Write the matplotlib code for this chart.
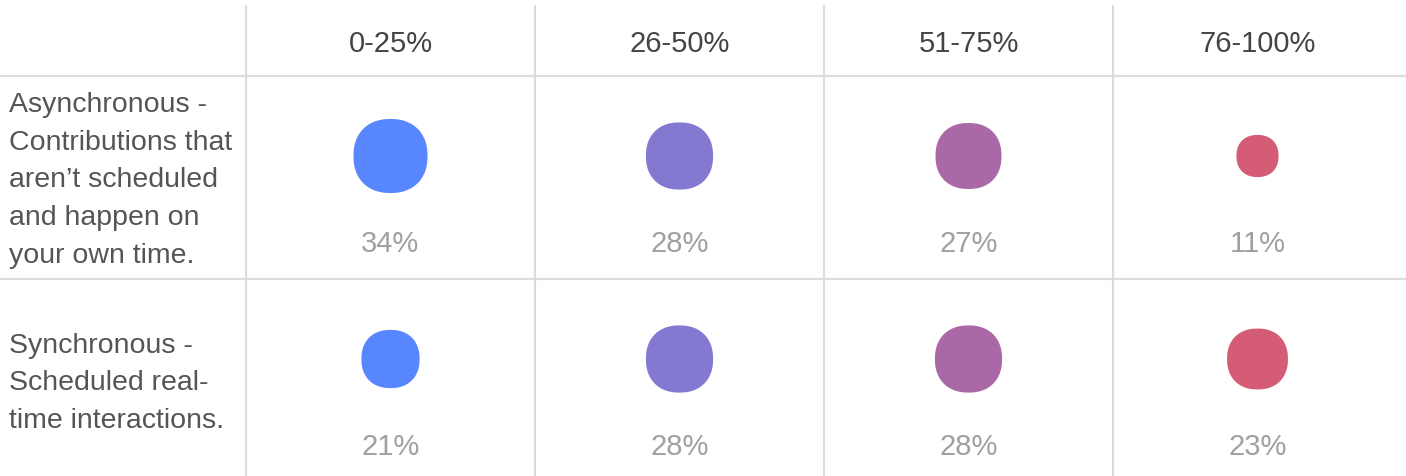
import numpy as np
import matplotlib.pyplot as plt
from matplotlib.patches import Polygon

plt.rcParams['font.family'] = ['Liberation Sans', 'DejaVu Sans']

# data
columns = ['0-25%', '26-50%', '51-75%', '76-100%']
rows = ['Asynchronous -\nContributions that\naren\u2019t scheduled\nand happen on\nyour own time.',
        'Synchronous -\nScheduled real-\ntime interactions.']
async_pct = [34, 28, 27, 11]
sync_pct = [21, 28, 28, 23]
col_colors = ['#5886FF', '#8379D0', '#AB68A6', '#D55C76']

W, H = 1406, 477
fig = plt.figure(figsize=(W / 100, H / 100), dpi=100)
ax = fig.add_axes([0, 0, 1, 1])
ax.set_xlim(0, W)
ax.set_ylim(H, 0)
ax.axis('off')

label_w = 246
col_w = 289
row_tops = [77, 280]
row_bots = [280, H]
label_shift = [2, 5]
grid_c = '#DCDCDC'

# grid lines
for i in range(len(columns)):
    ax.plot([label_w + i * col_w] * 2, [7, H], color=grid_c, lw=1.6)
for y in row_tops:
    ax.plot([0, W], [y, y], color=grid_c, lw=1.6)


def squircle(cx, cy, d, n=2.25, k=160):
    t = np.linspace(0, 2 * np.pi, k, endpoint=False)
    c, s = np.cos(t), np.sin(t)
    x = np.sign(c) * np.abs(c) ** (2 / n) * d / 2
    y = np.sign(s) * np.abs(s) ** (2 / n) * d / 2
    return np.column_stack([cx + x, cy + y])


max_d = 74
vmax = max(async_pct + sync_pct)
for j, name in enumerate(columns):
    cx = label_w + (j + 0.5) * col_w
    ax.text(cx, 44, name, ha='center', va='center', fontsize=21, color='#444444')

for r, (label, vals) in enumerate(zip(rows, [async_pct, sync_pct])):
    top = row_tops[r]
    ax.text(9, (top + row_bots[r]) / 2 + label_shift[r], label, ha='left', va='center',
            fontsize=20.5, color='#555555', linespacing=1.58)
    for j, v in enumerate(vals):
        cx = label_w + (j + 0.5) * col_w
        cy = top + 80
        d = max_d * np.sqrt(v / vmax)
        ax.add_patch(Polygon(squircle(cx, cy, d), closed=True,
                             facecolor=col_colors[j], edgecolor='none'))
        ax.text(cx, top + 167, f'{v}%', ha='center', va='center',
                fontsize=21, color='#A0A0A0')

fig.savefig('out.png', dpi=100)
